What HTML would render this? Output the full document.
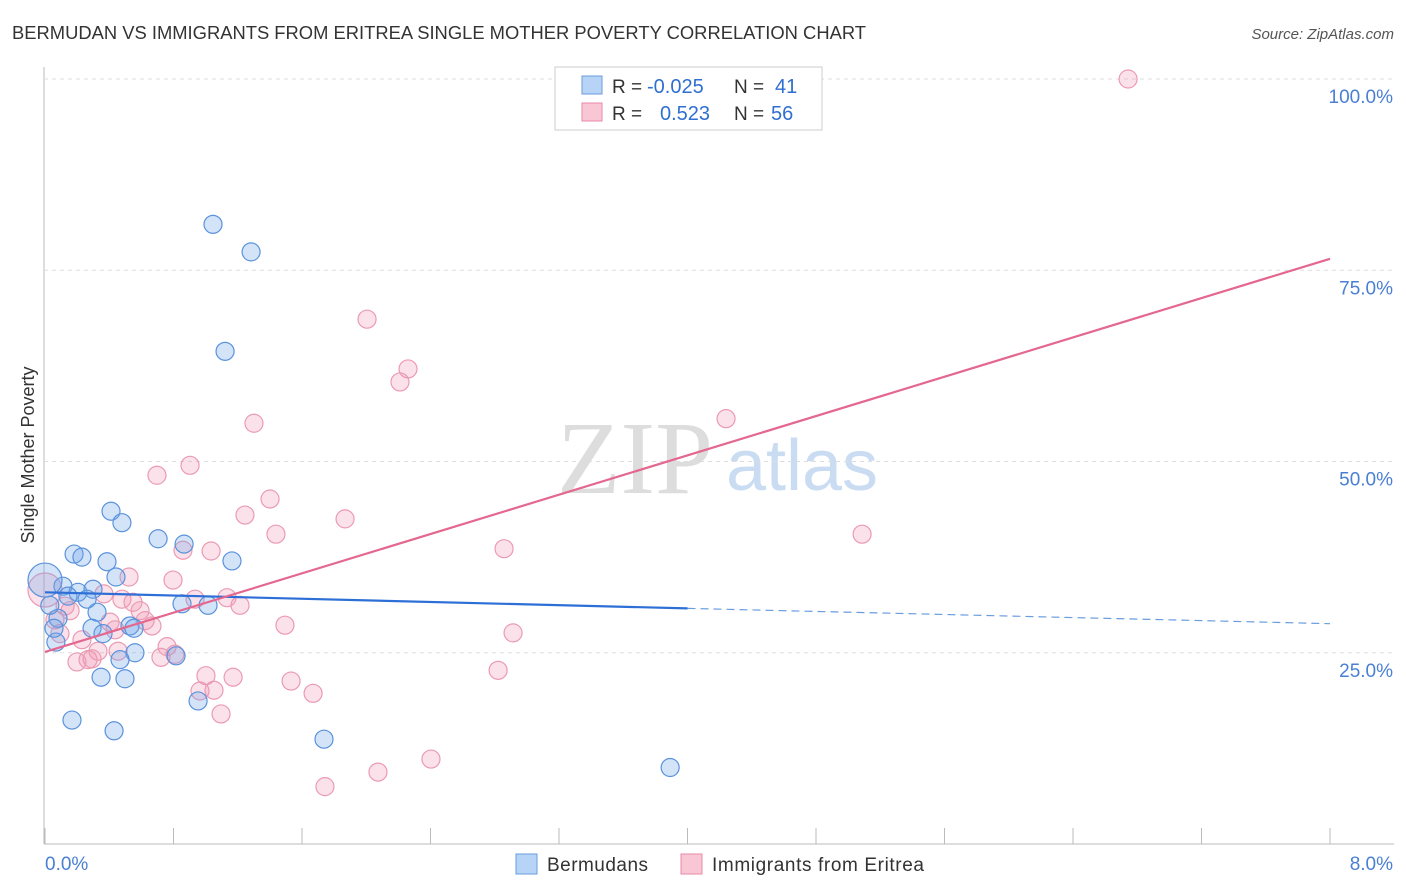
<!DOCTYPE html>
<html><head><meta charset="utf-8"><style>
body{margin:0;background:#fff;font-family:"Liberation Sans",sans-serif}
svg{display:block}
</style></head><body>
<svg id="c" width="1406" height="892">
<text x="12" y="39" font-size="18" fill="#333" textLength="854" lengthAdjust="spacingAndGlyphs">BERMUDAN VS IMMIGRANTS FROM ERITREA SINGLE MOTHER POVERTY CORRELATION CHART</text>
<text x="1394" y="39" font-size="15" fill="#555" font-style="italic" text-anchor="end">Source: ZipAtlas.com</text>
<text x="635" y="493" font-size="104" fill="#ddd" font-family="Liberation Serif,serif" text-anchor="middle">ZIP</text>
<text x="802" y="490" font-size="72" fill="#c9dcf2" text-anchor="middle">atlas</text>
<g id="grid"></g>
<g id="marks"></g>
<text transform="translate(34,455) rotate(-90)" font-size="18" fill="#333" text-anchor="middle">Single Mother Poverty</text>
<g>
<rect x="555" y="67" width="267" height="63" fill="#fff" stroke="#ccc"/>
<rect x="582" y="76" width="20" height="18" fill="#b7d3f5" stroke="#6a9de0"/>
<rect x="582" y="103" width="20" height="18" fill="#f8c6d5" stroke="#e88aa5"/>
<text x="612" y="93" font-size="19" fill="#333">R =<tspan x="647" fill="#2f6fd0" font-size="20">-0.025</tspan><tspan x="734">N =</tspan><tspan x="775" fill="#2f6fd0" font-size="20">41</tspan></text>
<text x="612" y="120" font-size="19" fill="#333">R =<tspan x="660" fill="#2f6fd0" font-size="20">0.523</tspan><tspan x="734">N =</tspan><tspan x="771" fill="#2f6fd0" font-size="20">56</tspan></text>
</g>
<g>
<rect x="516" y="854" width="21" height="20" fill="#b7d3f5" stroke="#6a9de0"/>
<text x="547" y="871" font-size="19" fill="#333" textLength="101">Bermudans</text>
<rect x="681" y="854" width="21" height="20" fill="#f8c6d5" stroke="#e88aa5"/>
<text x="712" y="871" font-size="19" fill="#333" textLength="212">Immigrants from Eritrea</text>
</g>
</svg>
<script>
const xTicks=[0,1,2,3,4,5,6,7,8];
const yTicks=[25,50,75,100];
const blueX=[1.046,1.283,1.121,0.411,0.479,0.704,0.866,0.181,0.230,0.386,1.164,0.442,0.112,0.205,0.299,0.143,0.262,0.324,0.853,1.015,0.081,0.293,0.529,0.554,0.361,0.068,0.560,0.816,0.467,0.349,0.498,0.953,0.168,0.430,1.737,3.892,0.056,0.03,0.0];
const blueY=[81.0,77.4,64.4,43.5,42.0,39.9,39.2,37.9,37.5,36.9,37.0,34.9,33.7,32.9,33.3,32.4,32.0,30.3,31.4,31.2,29.5,28.2,28.5,28.2,27.5,26.4,25.0,24.6,24.1,21.8,21.6,18.7,16.2,14.8,13.7,10.0,28.2,31.2,34.5];
const pinkX=[6.743,2.005,2.260,2.210,1.301,4.240,0.903,0.697,1.401,1.245,1.868,1.438,5.087,2.858,0.859,1.034,0.523,0.797,0.367,0.479,0.548,0.934,1.133,1.214,0.125,0.156,0.592,0.623,0.666,0.405,0.436,1.494,2.914,0.093,0.230,0.760,0.330,0.455,0.268,0.293,0.722,0.199,0.809,1.002,1.171,1.532,2.821,0.965,1.052,1.669,1.096,2.403,2.073,1.743,0.062,0.0];
const pinkY=[100,68.6,62.1,60.4,55.0,55.6,49.5,48.2,45.1,43.0,42.5,40.5,40.5,38.6,38.4,38.3,34.9,34.5,32.7,32.0,31.6,32.0,32.2,31.2,31.1,30.5,30.5,29.2,28.5,29.0,28.0,28.6,27.6,27.5,26.7,25.8,25.2,25.2,24.1,24.2,24.4,23.8,24.8,22.0,21.8,21.3,22.7,20.0,20.1,19.7,17.0,11.1,9.4,7.5,29.3,33.2];
const blueLine=[32.9,30.8,28.8];
const pinkLine=[25.1,76.5];
const NS='http://www.w3.org/2000/svg';
const X=v=>45+v/8*1285, Y=v=>844-v*7.65;
function mk(t,a,p){const e=document.createElementNS(NS,t);for(const k in a)e.setAttribute(k,a[k]);p.appendChild(e);return e;}
const g=document.getElementById('grid'), m=document.getElementById('marks');
const ax=mk('line',{x1:44,y1:67,x2:44,y2:844,stroke:'#bbb'},g);


const bx=mk('line',{x1:44,y1:844,x2:1394,y2:844,stroke:'#bbb'},g);


yTicks.forEach(t=>{
  const l=mk('line',{x1:44,y1:Y(t),x2:1394,y2:Y(t),stroke:'#ddd','stroke-dasharray':'4,4'},g);
  
  
  const tx=mk('text',{x:1393,y:Y(t)+24,'font-size':19,fill:'#4a7fd4','text-anchor':'end'},g);
  tx.textContent=t.toFixed(1)+'%';
  
  
});
for(let i=0;i<=10;i++){
  const xv=i*0.8;
  const l=mk('line',{x1:X(xv),y1:828,x2:X(xv),y2:844,stroke:'#bbb'},g);
  
  
}
[[0,'0.0%','start',45],[8,'8.0%','end',1393]].forEach(([v,s,a,px])=>{
  const tx=mk('text',{x:px,y:870,'font-size':19,fill:'#4a7fd4','text-anchor':a},g);
  tx.textContent=s;
  
  
});
function dots(xs,ys,fill,stroke,name){
  xs.forEach((x,i)=>{
    const big=(x===0);
    const c=mk('circle',{cx:X(x),cy:Y(ys[i]),r:big?17:9,fill:fill,stroke:stroke,'stroke-width':1.2},m);
    
    
  });
}
dots(pinkX,pinkY,'rgba(242,150,180,0.28)','#eb9ab3','eritrea-point');
dots(blueX,blueY,'rgba(110,165,235,0.3)','#5b92dc','bermudan-point');
const b1=mk('line',{x1:X(0),y1:Y(blueLine[0]),x2:X(4),y2:Y(blueLine[1]),stroke:'#2d6fd6','stroke-width':2.2},m);


const b2=mk('line',{x1:X(4),y1:Y(blueLine[1]),x2:X(8),y2:Y(blueLine[2]),stroke:'#6a9de0','stroke-width':1.2,'stroke-dasharray':'8,5'},m);


const p1=mk('line',{x1:X(0),y1:Y(pinkLine[0]),x2:X(8),y2:Y(pinkLine[1]),stroke:'#e4678f','stroke-width':2.2},m);


</script>
</body></html>
